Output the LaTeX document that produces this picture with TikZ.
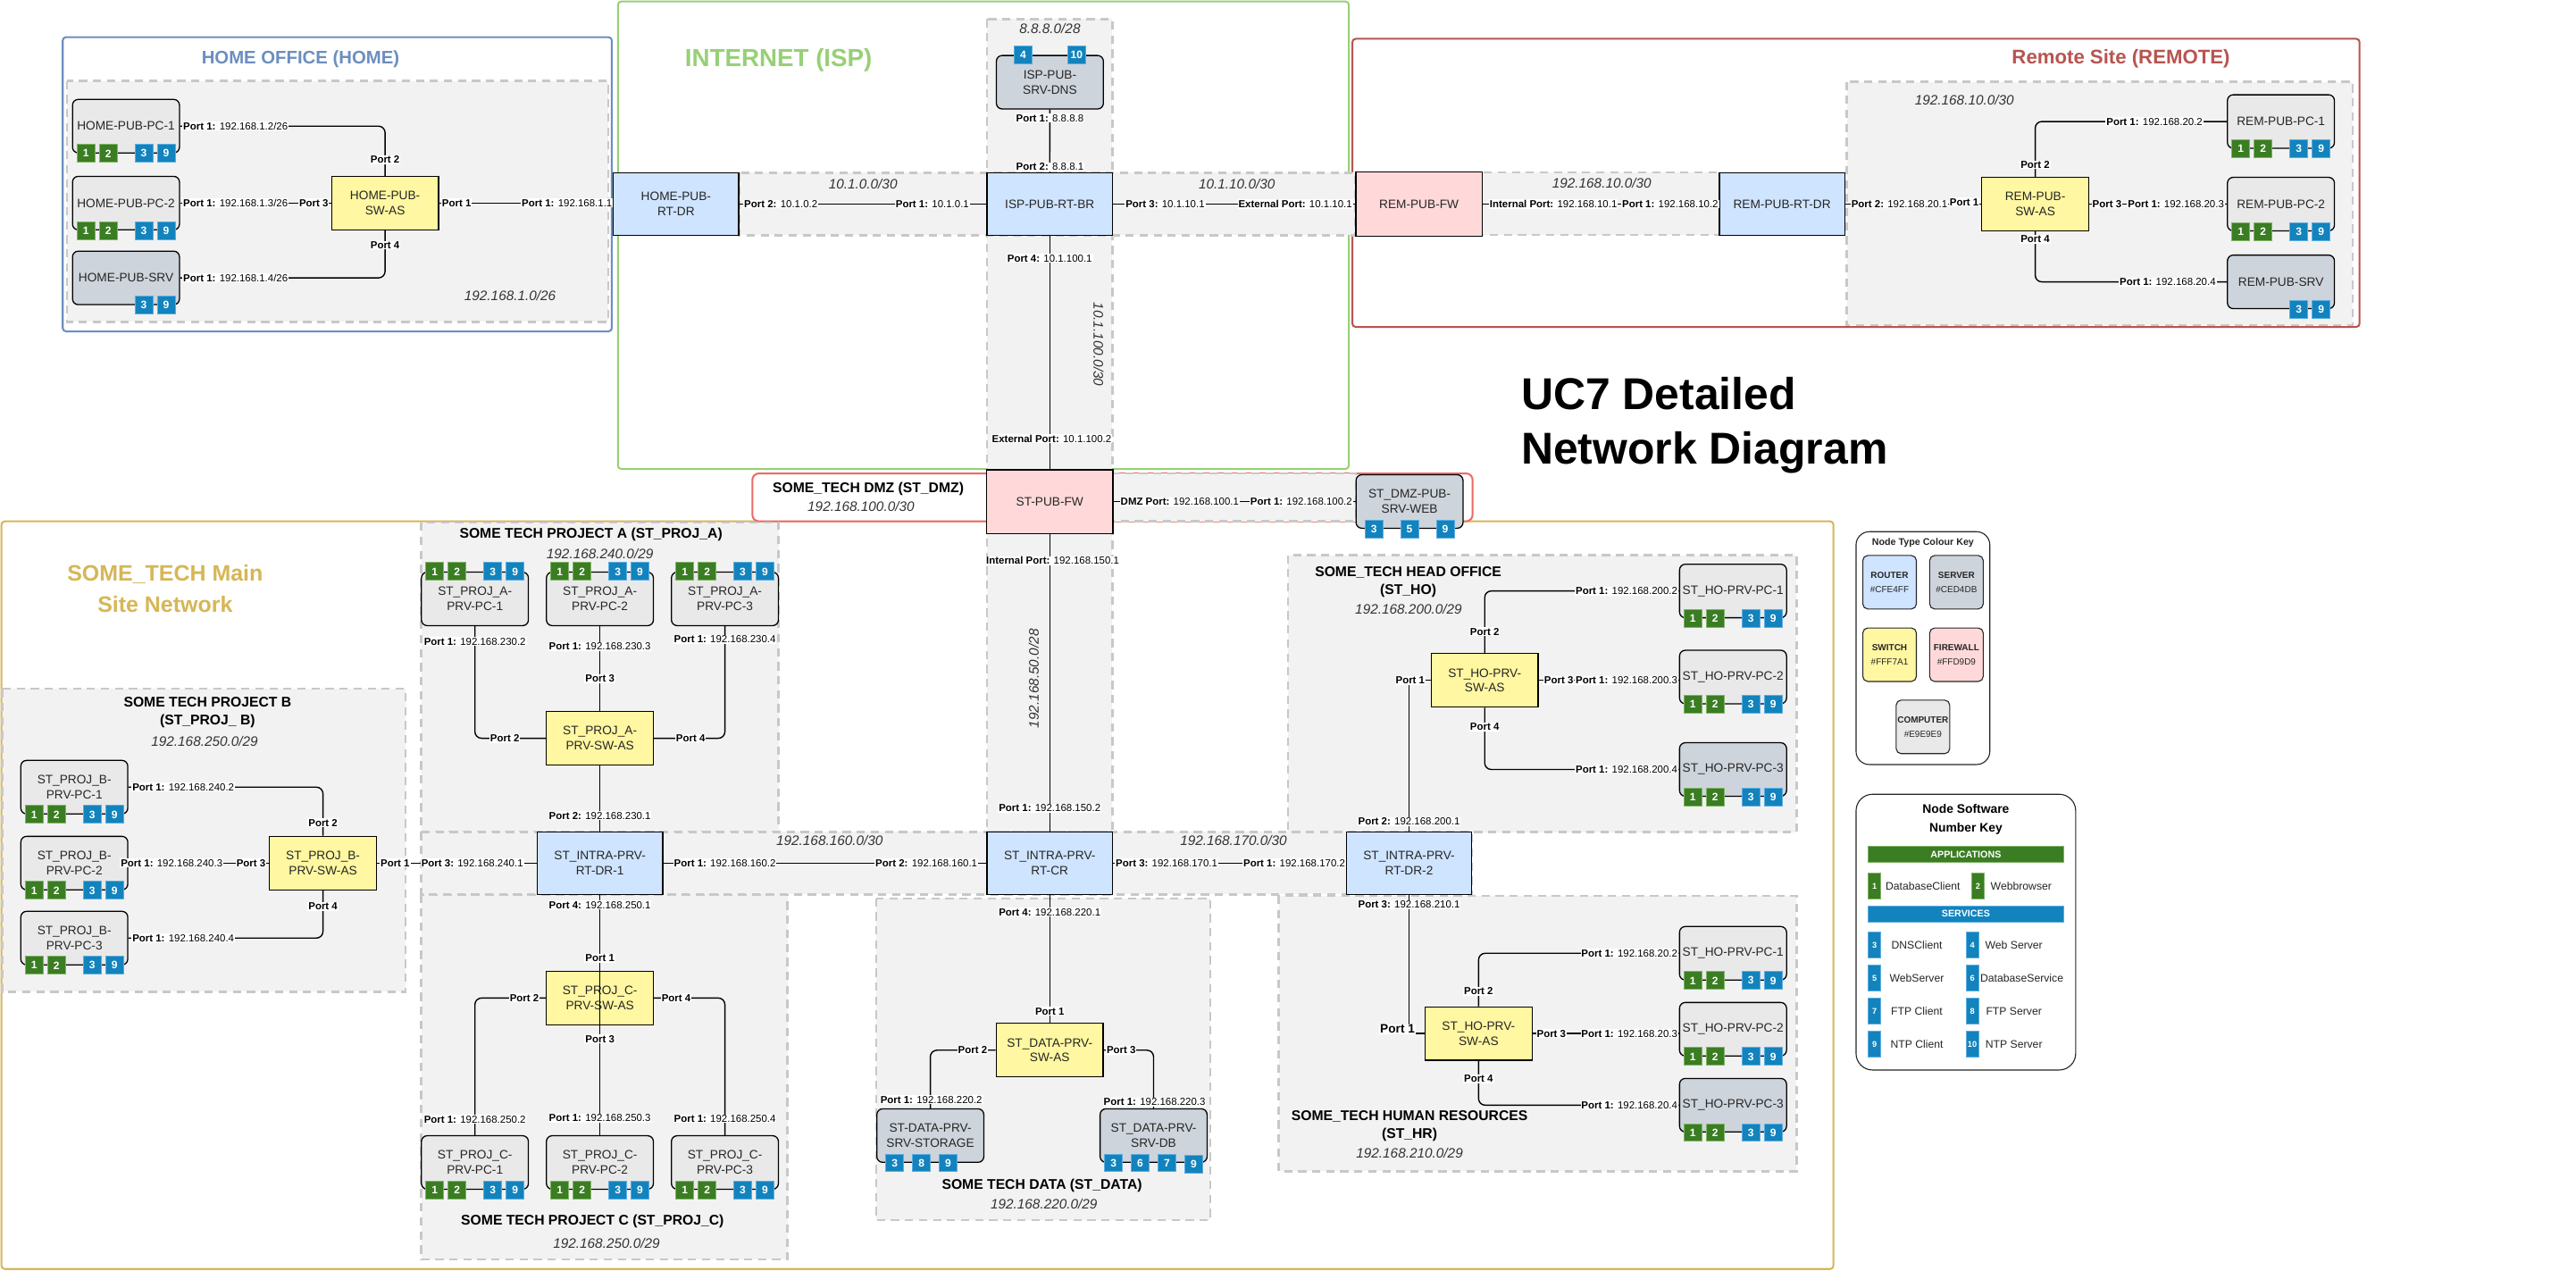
\documentclass[tikz,border=0pt]{standalone}
\usepackage{fontspec}
\setmainfont{Liberation Sans}
\usetikzlibrary{calc}
\definecolor{rtc}{HTML}{CFE4FF}
\definecolor{swc}{HTML}{FFF7A1}
\definecolor{fwc}{HTML}{FFD9D9}
\definecolor{pcc}{HTML}{E9E9E9}
\definecolor{srvc}{HTML}{CED4DB}
\definecolor{appc}{HTML}{3A7D22}
\definecolor{appl}{HTML}{82B366}
\definecolor{svcc}{HTML}{1283BD}
\definecolor{svcl}{HTML}{5DADE2}
\definecolor{areaf}{HTML}{F2F2F2}
\definecolor{aread}{HTML}{C8C8C8}
\definecolor{homec}{HTML}{6C8EBF}
\definecolor{ispc}{HTML}{97D077}
\definecolor{remc}{HTML}{B85450}
\definecolor{mainc}{HTML}{D6B656}
\definecolor{dmzc}{HTML}{EA6B66}
\newcommand\prt[2]{\textbf{Port #1:} #2}
\newcommand\prn[1]{\textbf{Port #1}}
\newcommand\pcbadges[2]{%
 \node[bapp] (#1-b1) at ($(#1.#2)+(-24.3,0)$) {1};
 \node[bapp] (#1-b2) at ($(#1.#2)+(-10.8,0)$) {2};
 \node[bsvc] (#1-b3) at ($(#1.#2)+(10.8,0)$) {3};
 \node[bsvc] (#1-b9) at ($(#1.#2)+(24.3,0)$) {9};}
\newcommand\srvbadges[1]{%
 \node[bsvc] (#1-b3) at ($(#1.south)+(10.8,0)$) {3};
 \node[bsvc] (#1-b9) at ($(#1.south)+(24.3,0)$) {9};}
\tikzset{
 zone/.style={line width=1.1pt, rounded corners=2pt},
 netarea/.style={fill=areaf, draw=aread, line width=1.3pt, dash pattern=on 5pt off 3.5pt},
 nd/.style={draw=black, line width=0.7pt, align=center, inner sep=1pt, text=black!85,
   font=\fontsize{7.4}{9}\selectfont},
 rtr/.style={nd, fill=rtc, minimum width=76pt, minimum height=38pt},
 swt/.style={nd, fill=swc, minimum width=64.8pt, minimum height=32.4pt},
 fwl/.style={nd, fill=fwc, minimum width=76.5pt, minimum height=38.6pt},
 pcn/.style={nd, fill=pcc, rounded corners=3.5pt, minimum width=64.8pt, minimum height=32.4pt},
 srvn/.style={nd, fill=srvc, rounded corners=3.5pt, minimum width=64.8pt, minimum height=32.4pt},
 badge/.style={minimum size=10.8pt, inner sep=0pt, line width=0.5pt, text=white,
   font=\fontsize{6.5}{7}\selectfont\bfseries},
 bapp/.style={badge, fill=appc, draw=appl},
 bsvc/.style={badge, fill=svcc, draw=svcl},
 conn/.style={draw=black, line width=0.75pt, rounded corners=4pt},
 lbl/.style={fill=white, inner sep=0.5pt, text=black, font=\fontsize{6.2}{7}\selectfont},
 subl/.style={inner sep=0.5pt, text=black!80, font=\fontsize{8.3}{10}\selectfont\itshape},
 secttitle/.style={inner sep=0.5pt, align=center, text=black, font=\fontsize{8.5}{10.8}\selectfont\bfseries},
 keyframe/.style={draw=black!85, line width=0.6pt, fill=white},
 kbox/.style={draw=black!85, line width=0.6pt, rounded corners=3pt, minimum width=32.4pt,
   minimum height=32.4pt, align=center, inner sep=0.3pt, text=black!85, font=\fontsize{5.4}{8.6}\selectfont},
 kbar/.style={minimum width=118pt, minimum height=9.7pt, inner sep=0pt, text=white,
   font=\fontsize{5.8}{6}\selectfont\bfseries},
 kb/.style={minimum width=7.5pt, minimum height=15.6pt, inner sep=0pt, text=white,
   font=\fontsize{5}{6}\selectfont\bfseries},
 ktxt/.style={inner sep=0.5pt, text=black!85, font=\fontsize{6.6}{8}\selectfont},
}
\begin{document}
\begin{tikzpicture}[x=1pt,y=-1pt]
\useasboundingbox (0,0) rectangle (1560,769.7);
\fill[white] (0,0) rectangle (1560,769.7);

% ---------- zones ----------
\draw[zone, draw=homec] (38,22.5) rectangle (370.5,200.7);
\draw[zone, draw=ispc] (374.2,0.9) rectangle (816.8,284);
\draw[zone, draw=remc] (819,23.5) rectangle (1428.9,198);
\draw[zone, draw=mainc] (0.9,315.7) rectangle (1110.3,768.5);
\draw[zone, draw=dmzc, fill=white, rounded corners=4pt] (455.6,286.7) rectangle (891.8,315.7);

% ---------- gray network areas ----------
\draw[netarea] (40.6,49) rectangle (368.2,195);
\draw[netarea] (1118.4,49.5) rectangle (1424.9,197);
\draw[netarea] (255.1,316.5) rectangle (471.5,503.8);
\draw[netarea] (1.4,417.2) rectangle (245.6,600.6);
\draw[netarea] (255.1,541.7) rectangle (476.9,762.7);
\draw[netarea] (530.5,544) rectangle (733,739);
\draw[netarea] (779.9,336.2) rectangle (1088,503.9);
\draw[netarea] (774.4,542.5) rectangle (1088,709.3);
\draw[netarea] (597.7,11.6) rectangle (673.6,503.8);
\draw[netarea] (447.5,104.6) rectangle (820.7,142.5);
\draw[netarea] (872,104.4) rectangle (1041.2,142.2);
\draw[netarea] (673.7,286.7) rectangle (821,315.7);
\draw[netarea] (255.1,503.8) rectangle (891.3,541.7);

% ---------- zone titles ----------
\node[inner sep=0.5pt, text=homec, font=\fontsize{11}{13}\selectfont\bfseries] (t08) at (182,36) {HOME OFFICE (HOME)};
\node[inner sep=0.5pt, text=ispc, font=\fontsize{15}{18}\selectfont\bfseries] (t09) at (471.5,36.6) {INTERNET (ISP)};
\node[inner sep=0.5pt, text=remc, font=\fontsize{12}{14}\selectfont\bfseries] (t10) at (1284.4,35.8) {Remote Site (REMOTE)};
\node[inner sep=0.5pt, text=mainc, align=center, font=\fontsize{13.5}{18.5}\selectfont\bfseries] (t11) at (100,356.5) {SOME\_TECH Main\\Site Network};
\node[inner sep=0pt, anchor=base west, font=\fontsize{27}{33}\selectfont\bfseries] (t12) at (921,248) {UC7 Detailed};
\node[inner sep=0pt, anchor=base west, font=\fontsize{27}{33}\selectfont\bfseries] (t13) at (921,281) {Network Diagram};

\node[secttitle] (t01) at (357.9,323.6) {SOME TECH PROJECT A (ST\_PROJ\_A)};
\node[secttitle] (t02) at (125.7,431.3) {SOME TECH PROJECT B\\(ST\_PROJ\_ B)};
\node[secttitle] (t03) at (358.8,739.6) {SOME TECH PROJECT C (ST\_PROJ\_C)};
\node[secttitle] (t04) at (631,717.8) {SOME TECH DATA (ST\_DATA)};
\node[secttitle] (t05) at (852.8,352.4) {SOME\_TECH HEAD OFFICE\\(ST\_HO)};
\node[secttitle] (t06) at (853.6,682) {SOME\_TECH HUMAN RESOURCES\\(ST\_HR)};
\node[secttitle] (t07) at (525.8,296) {SOME\_TECH DMZ (ST\_DMZ)};

% ---------- subnet labels ----------
\node[subl] (s01) at (308.9,179.1) {192.168.1.0/26};
\node[subl] (s02) at (635.8,17.3) {8.8.8.0/28};
\node[subl] (s03) at (522.6,111.2) {10.1.0.0/30};
\node[subl] (s04) at (749,111.7) {10.1.10.0/30};
\node[subl, rotate=-90] (s05) at (665.2,208.5) {10.1.100.0/30};
\node[subl] (s06) at (970,110.7) {192.168.10.0/30};
\node[subl] (s07) at (1189.6,60.7) {192.168.10.0/30};
\node[subl] (s08) at (521.4,306.7) {192.168.100.0/30};
\node[subl, rotate=90] (s09) at (626,411) {192.168.50.0/28};
\node[subl] (s10) at (363.3,335.3) {192.168.240.0/29};
\node[subl] (s11) at (123.9,448.8) {192.168.250.0/29};
\node[subl] (s12) at (502.4,509.2) {192.168.160.0/30};
\node[subl] (s13) at (747,509.2) {192.168.170.0/30};
\node[subl] (s14) at (367.3,752.7) {192.168.250.0/29};
\node[subl] (s15) at (632.2,729.1) {192.168.220.0/29};
\node[subl] (s16) at (853,368.7) {192.168.200.0/29};
\node[subl] (s17) at (853.6,698.5) {192.168.210.0/29};

% ---------- nodes ----------
% home
\node[pcn] (hpc1) at (76.3,76.4) {HOME-PUB-PC-1};
\node[pcn] (hpc2) at (76.3,123) {HOME-PUB-PC-2};
\node[srvn] (hsrv) at (76.3,168.3) {HOME-PUB-SRV};
\node[swt] (hsw) at (233.2,123) {HOME-PUB-\\SW-AS};
\node[rtr] (hrt) at (409.4,123.6) {HOME-PUB-\\RT-DR};
% isp
\node[srvn] (dns) at (635.8,49.8) {ISP-PUB-\\SRV-DNS};
\node[rtr] (isprt) at (635.7,123.6) {ISP-PUB-RT-BR};
\node[fwl] (fw) at (635.7,303.8) {ST-PUB-FW};
% remote
\node[fwl] (remfw) at (859.3,123.6) {REM-PUB-FW};
\node[rtr] (remrt) at (1079.2,123.6) {REM-PUB-RT-DR};
\node[swt] (remsw) at (1232.5,123.6) {REM-PUB-\\SW-AS};
\node[pcn] (rpc1) at (1381.3,73.6) {REM-PUB-PC-1};
\node[pcn] (rpc2) at (1381.3,123.6) {REM-PUB-PC-2};
\node[srvn] (rsrv) at (1381.3,170.7) {REM-PUB-SRV};
% dmz
\node[srvn] (web) at (853.6,303.7) {ST\_DMZ-PUB-\\SRV-WEB};
% project A
\node[pcn] (apc1) at (287.6,362.7) {ST\_PROJ\_A-\\PRV-PC-1};
\node[pcn] (apc2) at (363.3,362.7) {ST\_PROJ\_A-\\PRV-PC-2};
\node[pcn] (apc3) at (439,362.7) {ST\_PROJ\_A-\\PRV-PC-3};
\node[swt] (asw) at (363.3,447.1) {ST\_PROJ\_A-\\PRV-SW-AS};
% project B
\node[pcn] (bpc1) at (45,476.7) {ST\_PROJ\_B-\\PRV-PC-1};
\node[pcn] (bpc2) at (45,522.7) {ST\_PROJ\_B-\\PRV-PC-2};
\node[pcn] (bpc3) at (45,568.1) {ST\_PROJ\_B-\\PRV-PC-3};
\node[swt] (bsw) at (195.6,522.7) {ST\_PROJ\_B-\\PRV-SW-AS};
% intra routers
\node[rtr] (dr1) at (363.3,522.7) {ST\_INTRA-PRV-\\RT-DR-1};
\node[rtr] (cr) at (635.7,522.7) {ST\_INTRA-PRV-\\RT-CR};
\node[rtr] (dr2) at (853.3,522.7) {ST\_INTRA-PRV-\\RT-DR-2};
% project C
\node[swt] (csw) at (363.3,604.4) {ST\_PROJ\_C-\\PRV-SW-AS};
\node[pcn] (cpc1) at (287.6,704) {ST\_PROJ\_C-\\PRV-PC-1};
\node[pcn] (cpc2) at (363.3,704) {ST\_PROJ\_C-\\PRV-PC-2};
\node[pcn] (cpc3) at (439,704) {ST\_PROJ\_C-\\PRV-PC-3};
% data
\node[swt] (dsw) at (635.7,636) {ST\_DATA-PRV-\\SW-AS};
\node[srvn] (dsto) at (563.4,687.7) {ST-DATA-PRV-\\SRV-STORAGE};
\node[srvn] (ddb) at (698.6,687.7) {ST\_DATA-PRV-\\SRV-DB};
% head office
\node[swt] (hosw) at (899.1,412) {ST\_HO-PRV-\\SW-AS};
\node[pcn] (hopc1) at (1049.5,357.9) {ST\_HO-PRV-PC-1};
\node[pcn] (hopc2) at (1049.5,410) {ST\_HO-PRV-PC-2};
\node[srvn] (hopc3) at (1049.5,466) {ST\_HO-PRV-PC-3};
% human resources
\node[swt] (hrsw) at (895.4,625.9) {ST\_HO-PRV-\\SW-AS};
\node[pcn] (hrpc1) at (1049.5,577.3) {ST\_HO-PRV-PC-1};
\node[pcn] (hrpc2) at (1049.5,623.3) {ST\_HO-PRV-PC-2};
\node[srvn] (hrpc3) at (1049.5,669.3) {ST\_HO-PRV-PC-3};

% ---------- badges ----------
\pcbadges{hpc1}{south}\pcbadges{hpc2}{south}\srvbadges{hsrv}
\node[bsvc] (dns-b4) at ($(dns.north)+(-16.2,0)$) {4};
\node[bsvc] (dns-b10) at ($(dns.north)+(16.2,0)$) {10};
\pcbadges{rpc1}{south}\pcbadges{rpc2}{south}\srvbadges{rsrv}
\node[bsvc] (web-b3) at ($(web.south)+(-21.6,0)$) {3};
\node[bsvc] (web-b5) at ($(web.south)+(0,0)$) {5};
\node[bsvc] (web-b9) at ($(web.south)+(21.6,0)$) {9};
\pcbadges{apc1}{north}\pcbadges{apc2}{north}\pcbadges{apc3}{north}
\pcbadges{bpc1}{south}\pcbadges{bpc2}{south}\pcbadges{bpc3}{south}
\pcbadges{cpc1}{south}\pcbadges{cpc2}{south}\pcbadges{cpc3}{south}
\node[bsvc] (dsto-b3) at ($(dsto.south)+(-21.6,0)$) {3};
\node[bsvc] (dsto-b8) at ($(dsto.south)+(-5.4,0)$) {8};
\node[bsvc] (dsto-b9) at ($(dsto.south)+(10.8,0)$) {9};
\node[bsvc] (ddb-b3) at ($(ddb.south)+(-24.3,0)$) {3};
\node[bsvc] (ddb-b6) at ($(ddb.south)+(-8.1,0)$) {6};
\node[bsvc] (ddb-b7) at ($(ddb.south)+(8.1,0)$) {7};
\node[bsvc] (ddb-b9) at ($(ddb.south)+(24.3,1)$) {9};
\pcbadges{hopc1}{south}\pcbadges{hopc2}{south}\pcbadges{hopc3}{south}
\pcbadges{hrpc1}{south}\pcbadges{hrpc2}{south}\pcbadges{hrpc3}{south}

% ---------- connectors ----------
\draw[conn] (hpc1.east) -| (hsw.north);
\draw[conn] (hpc2.east) -- (hsw.west);
\draw[conn] (hsrv.east) -| (hsw.south);
\draw[conn] (hsw.east) -- (hsw.east -| hrt.west);
\draw[conn] (dns.south) -- (isprt.north);
\draw[conn] (hrt.east) -- (isprt.west);
\draw[conn] (isprt.east) -- (remfw.west);
\draw[conn] (isprt.south) -- (fw.north);
\draw[conn] (remfw.east) -- (remrt.west);
\draw[conn] (remrt.east) -- (remsw.west);
\draw[conn] (remsw.north) |- (rpc1.west);
\draw[conn] (remsw.east) -- (rpc2.west);
\draw[conn] (remsw.south) |- (rsrv.west);
\draw[conn] (fw.east) -- (fw.east -| web.west);
\draw[conn] (fw.south) -- (cr.north);
\draw[conn] (apc1.south) |- (asw.west);
\draw[conn] (apc2.south) -- (asw.north);
\draw[conn] (apc3.south) |- (asw.east);
\draw[conn] (asw.south) -- (dr1.north);
\draw[conn] (bpc1.east) -| (bsw.north);
\draw[conn] (bpc2.east) -- (bsw.west);
\draw[conn] (bpc3.east) -| (bsw.south);
\draw[conn] (bsw.east) -- (dr1.west);
\draw[conn] (dr1.east) -- (cr.west);
\draw[conn] (cr.east) -- (dr2.west);
\draw[conn] (dr1.south) -- (csw.south);
\draw[conn] (csw.west) -| (cpc1.north);
\draw[conn] (csw.south) -- (cpc2.north);
\draw[conn] (csw.east) -| (cpc3.north);
\draw[conn] (cr.south) -- (dsw.north);
\draw[conn] (dsw.west) -| (dsto.north);
\draw[conn] (dsw.east) -| (ddb.north);
\draw[conn, sharp corners] (dr2.north) |- (hosw.west);
\draw[conn] (hosw.north) |- (hopc1.west);
\draw[conn] (hosw.east) -- (hosw.east -| hopc2.west);
\draw[conn] (hosw.south) |- (hopc3.west);
\draw[conn, sharp corners] (dr2.south) |- (hrsw.west);
\draw[conn] (hrsw.north) |- (hrpc1.west);
\draw[conn] (hrsw.east) -- (hrsw.east -| hrpc2.west);
\draw[conn] (hrsw.south) |- (hrpc3.west);

% ---------- port labels ----------
\node[lbl, anchor=west] (l01) at (110.3,76.4) {\prt{1}{192.168.1.2/26}};
\node[lbl] (l02) at (233.2,96.7) {\prn{2}};
\node[lbl, anchor=west] (l03) at (110.3,123) {\prt{1}{192.168.1.3/26}};
\node[lbl, anchor=east] (l04) at (199.5,123) {\prn{3}};
\node[lbl, anchor=west] (l05) at (110.3,168.3) {\prt{1}{192.168.1.4/26}};
\node[lbl] (l06) at (233.2,148.5) {\prn{4}};
\node[lbl, anchor=west] (l07) at (267,123) {\prn{1}};
\node[lbl, anchor=east] (l08) at (371.4,123) {\prt{1}{192.168.1.1}};
\node[lbl] (l09) at (635.8,71.6) {\prt{1}{8.8.8.8}};
\node[lbl] (l10) at (635.8,101) {\prt{2}{8.8.8.1}};
\node[lbl, anchor=west] (l11) at (450,123.6) {\prt{2}{10.1.0.2}};
\node[lbl, anchor=east] (l12) at (587.5,123.6) {\prt{1}{10.1.0.1}};
\node[lbl, anchor=west] (l13) at (681,123.6) {\prt{3}{10.1.10.1}};
\node[lbl, anchor=east] (l14) at (819.5,123.6) {\textbf{External Port:} 10.1.10.1};
\node[lbl] (l15) at (635.7,156.4) {\prt{4}{10.1.100.1}};
\node[lbl] (l16) at (636.9,265.7) {\textbf{External Port:} 10.1.100.2};
\node[lbl, anchor=west] (l17) at (901.5,123.6) {\textbf{Internal Port:} 192.168.10.1};
\node[lbl, anchor=east] (l18) at (1041.2,123.6) {\prt{1}{192.168.10.2}};
\node[lbl, anchor=west] (l19) at (1120.5,123.6) {\prt{2}{192.168.20.1}};
\node[lbl, anchor=east] (l20) at (1199,122.4) {\prn{1}};
\node[lbl] (l21) at (1232.5,99.8) {\prn{2}};
\node[lbl, anchor=east] (l22) at (1334.5,73.6) {\prt{1}{192.168.20.2}};
\node[lbl, anchor=west] (l23) at (1266.5,123.6) {\prn{3}};
\node[lbl, anchor=east] (l24) at (1347.5,123.6) {\prt{1}{192.168.20.3}};
\node[lbl] (l25) at (1232.5,144.9) {\prn{4}};
\node[lbl, anchor=east] (l26) at (1342.5,170.7) {\prt{1}{192.168.20.4}};
\node[lbl, anchor=west] (l27) at (678,303.8) {\textbf{DMZ Port:} 192.168.100.1};
\node[lbl, anchor=east] (l28) at (819.5,303.8) {\prt{1}{192.168.100.2}};
\node[lbl] (l29) at (637.5,339.5) {\textbf{Internal Port:} 192.168.150.1};
\node[lbl] (l30) at (635.7,489.4) {\prt{1}{192.168.150.2}};
\node[lbl] (l31) at (287.6,388.5) {\prt{1}{192.168.230.2}};
\node[lbl] (l32) at (305.7,447.1) {\prn{2}};
\node[lbl] (l33) at (363.3,391.6) {\prt{1}{192.168.230.3}};
\node[lbl] (l34) at (363.3,411) {\prn{3}};
\node[lbl] (l35) at (439,387.3) {\prt{1}{192.168.230.4}};
\node[lbl] (l36) at (418.2,447.1) {\prn{4}};
\node[lbl] (l37) at (363.3,493.9) {\prt{2}{192.168.230.1}};
\node[lbl, anchor=west] (l38) at (79.5,476.7) {\prt{1}{192.168.240.2}};
\node[lbl] (l39) at (195.6,498.3) {\prn{2}};
\node[lbl, anchor=west] (l40) at (72.5,522.7) {\prt{1}{192.168.240.3}};
\node[lbl, anchor=east] (l41) at (161.5,522.7) {\prn{3}};
\node[lbl, anchor=west] (l42) at (79.5,568.1) {\prt{1}{192.168.240.4}};
\node[lbl] (l43) at (195.6,548.8) {\prn{4}};
\node[lbl, anchor=west] (l44) at (229.8,522.7) {\prn{1}};
\node[lbl, anchor=west] (l45) at (254.5,522.7) {\prt{3}{192.168.240.1}};
\node[lbl, anchor=west] (l46) at (407.5,522.7) {\prt{1}{192.168.160.2}};
\node[lbl, anchor=east] (l47) at (592.5,522.7) {\prt{2}{192.168.160.1}};
\node[lbl, anchor=west] (l48) at (675,522.7) {\prt{3}{192.168.170.1}};
\node[lbl, anchor=east] (l49) at (815.3,522.7) {\prt{1}{192.168.170.2}};
\node[lbl] (l50) at (363.3,548) {\prt{4}{192.168.250.1}};
\node[lbl] (l51) at (363.3,580.2) {\prn{1}};
\node[lbl, anchor=east] (l52) at (327,604.4) {\prn{2}};
\node[lbl] (l53) at (363.3,629.2) {\prn{3}};
\node[lbl, anchor=west] (l54) at (400,604.4) {\prn{4}};
\node[lbl] (l55) at (287.6,677.9) {\prt{1}{192.168.250.2}};
\node[lbl] (l56) at (363.3,677) {\prt{1}{192.168.250.3}};
\node[lbl] (l57) at (439,677.5) {\prt{1}{192.168.250.4}};
\node[lbl] (l58) at (635.7,552.4) {\prt{4}{192.168.220.1}};
\node[lbl] (l59) at (635.7,612.5) {\prn{1}};
\node[lbl, anchor=east] (l60) at (598.5,636) {\prn{2}};
\node[lbl, anchor=west] (l61) at (669.5,636) {\prn{3}};
\node[lbl] (l62) at (564,666) {\prt{1}{192.168.220.2}};
\node[lbl] (l63) at (699.2,667.3) {\prt{1}{192.168.220.3}};
\node[lbl] (l64) at (853.3,497.6) {\prt{2}{192.168.200.1}};
\node[lbl, anchor=east] (l65) at (863.5,412) {\prn{1}};
\node[lbl] (l66) at (899.1,382.6) {\prn{2}};
\node[lbl, anchor=east] (l67) at (1016.5,357.9) {\prt{1}{192.168.200.2}};
\node[lbl, anchor=west] (l68) at (934.5,412) {\prn{3}};
\node[lbl, anchor=east] (l69) at (1016.5,412) {\prt{1}{192.168.200.3}};
\node[lbl] (l70) at (899.1,440.3) {\prn{4}};
\node[lbl, anchor=east] (l71) at (1016.5,466) {\prt{1}{192.168.200.4}};
\node[lbl] (l72) at (853.3,547.9) {\prt{3}{192.168.210.1}};
\node[lbl, anchor=east, font=\fontsize{7.4}{8}\selectfont] (l73) at (857.5,623.3) {\prn{1}};
\node[lbl] (l74) at (895.4,600.2) {\prn{2}};
\node[lbl, anchor=east] (l75) at (1016.5,577.3) {\prt{1}{192.168.20.2}};
\node[lbl, anchor=west] (l76) at (930,625.9) {\prn{3}};
\node[lbl, anchor=east] (l77) at (1016.5,625.9) {\prt{1}{192.168.20.3}};
\node[lbl] (l78) at (895.4,653.4) {\prn{4}};
\node[lbl, anchor=east] (l79) at (1016.5,669.3) {\prt{1}{192.168.20.4}};

% ---------- node type colour key ----------
\draw[keyframe, rounded corners=8pt] (1124,322) rectangle (1205,463);
\node[inner sep=0.5pt, text=black!85, font=\fontsize{5.8}{6.5}\selectfont\bfseries] (kt1) at (1164.5,328.8) {Node Type Colour Key};
\node[kbox, fill=rtc] (kr) at (1144.3,352.6) {\textbf{ROUTER}\\\#CFE4FF};
\node[kbox, fill=srvc] (ks) at (1184.8,352.6) {\textbf{SERVER}\\\#CED4DB};
\node[kbox, fill=swc] (ksw) at (1144.3,396.5) {\textbf{SWITCH}\\\#FFF7A1};
\node[kbox, fill=fwc] (kf) at (1184.8,396.5) {\textbf{FIREWALL}\\\#FFD9D9};
\node[kbox, fill=pcc] (kc) at (1164.5,440.2) {\textbf{COMPUTER}\\\#E9E9E9};

% ---------- software number key ----------
\draw[keyframe, rounded corners=10pt] (1124,481) rectangle (1257,648);
\node[inner sep=0.5pt, align=center, text=black, font=\fontsize{7.5}{11.3}\selectfont\bfseries] (kt2) at (1190.5,496.3) {Node Software\\Number Key};
\node[kbar, fill=appc, draw=appl, line width=0.5pt] (kapp) at (1190.5,517.5) {APPLICATIONS};
\node[kb, fill=appc, draw=appl, line width=0.5pt] (kb1) at (1135.2,536.5) {1};
\node[ktxt] (kd1) at (1164.5,536.5) {DatabaseClient};
\node[kb, fill=appc, draw=appl, line width=0.5pt] (kb2) at (1197.8,536.5) {2};
\node[ktxt] (kd2) at (1224,536.5) {Webbrowser};
\node[kbar, fill=svcc, draw=svcl, line width=0.5pt] (ksvc) at (1190.5,553.5) {SERVICES};
\node[kb, fill=svcc, draw=svcl, line width=0.5pt] (kb3) at (1135.2,572.4) {3};
\node[ktxt] (kd3) at (1160.8,572.4) {DNSClient};
\node[kb, fill=svcc, draw=svcl, line width=0.5pt] (kb4) at (1194.4,572.4) {4};
\node[ktxt] (kd4) at (1219.6,572.4) {Web Server};
\node[kb, fill=svcc, draw=svcl, line width=0.5pt] (kb5) at (1135.2,592.4) {5};
\node[ktxt] (kd5) at (1160.8,592.4) {WebServer};
\node[kb, fill=svcc, draw=svcl, line width=0.5pt] (kb6) at (1194.4,592.4) {6};
\node[ktxt] (kd6) at (1224.4,592.4) {DatabaseService};
\node[kb, fill=svcc, draw=svcl, line width=0.5pt] (kb7) at (1135.2,612.4) {7};
\node[ktxt] (kd7) at (1160.8,612.4) {FTP Client};
\node[kb, fill=svcc, draw=svcl, line width=0.5pt] (kb8) at (1194.4,612.4) {8};
\node[ktxt] (kd8) at (1219.6,612.4) {FTP Server};
\node[kb, fill=svcc, draw=svcl, line width=0.5pt] (kb9) at (1135.2,632.4) {9};
\node[ktxt] (kd9) at (1160.8,632.4) {NTP Client};
\node[kb, fill=svcc, draw=svcl, line width=0.5pt] (kb10) at (1194.4,632.4) {10};
\node[ktxt] (kd10) at (1219.6,632.4) {NTP Server};
\end{tikzpicture}
\end{document}
